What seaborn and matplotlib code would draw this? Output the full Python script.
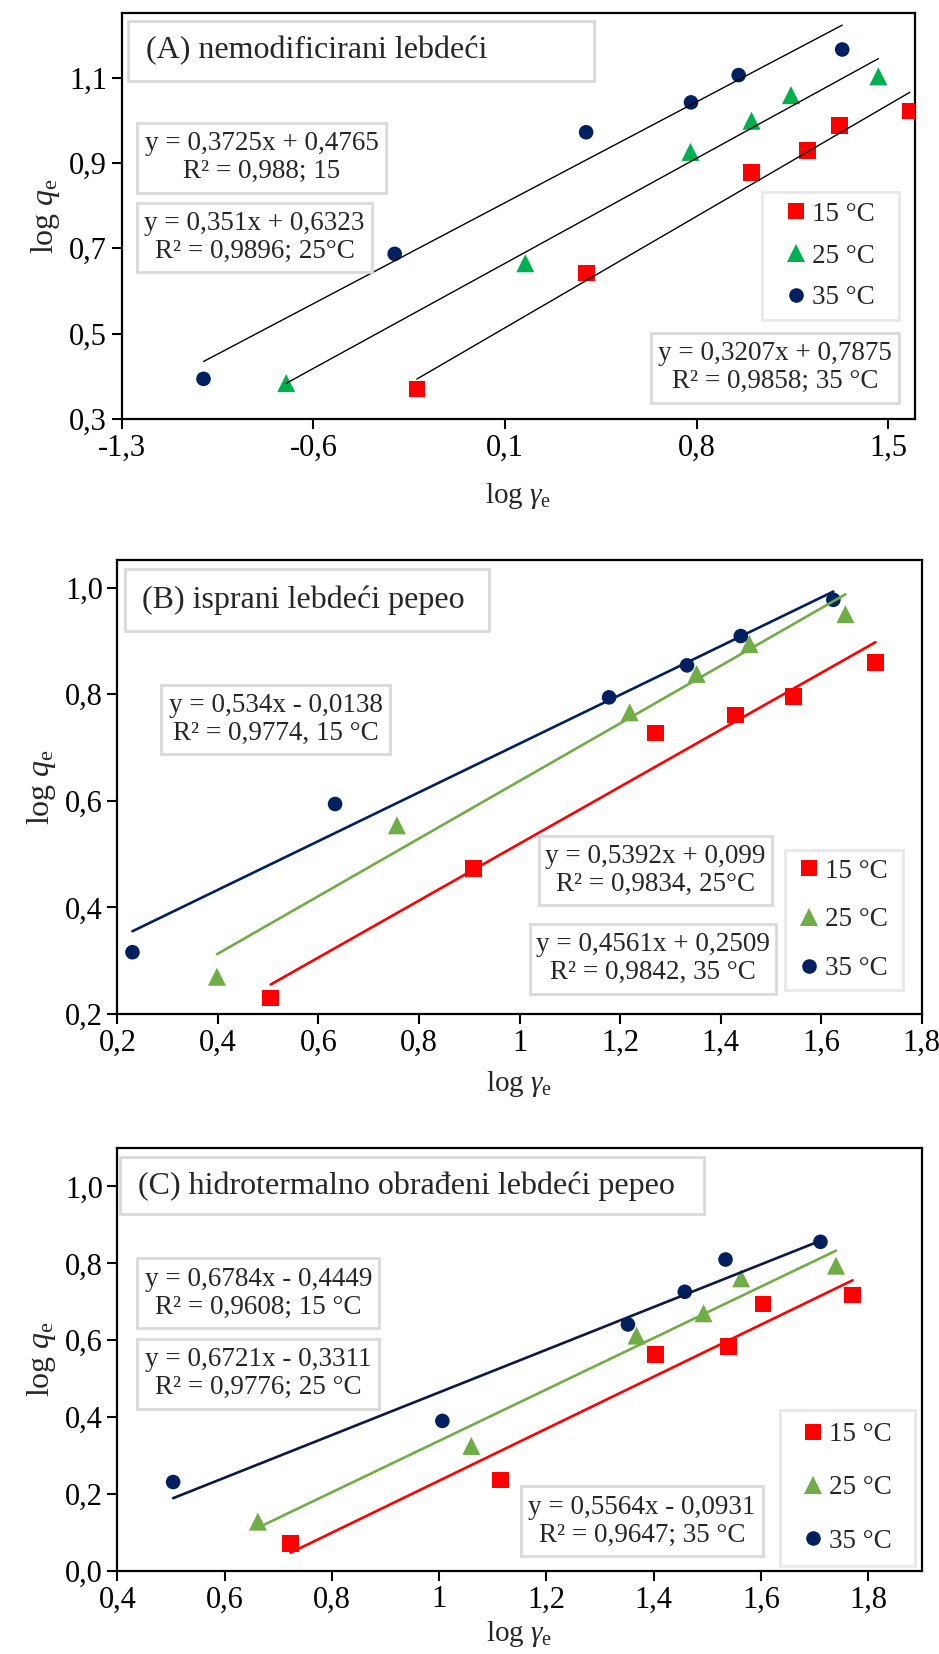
import numpy as np
import pandas as pd
import matplotlib
matplotlib.use('Agg')
import matplotlib.pyplot as plt
import seaborn as sns
from matplotlib.patches import Rectangle
from matplotlib.lines import Line2D

temps = ['15 °C', '25 °C', '35 °C']

# panel A: nemodificirani lebdeci pepeo
a_x15 = [-0.222, 0.398, 0.999, 1.204, 1.320, 1.578]
a_y15 = [0.370, 0.642, 0.877, 0.930, 0.988, 1.022]
a_x25 = [-0.699, 0.174, 0.777, 1.000, 1.144, 1.463]
a_y25 = [0.384, 0.665, 0.926, 0.999, 1.059, 1.103]
a_x35 = [-1.001, -0.303, 0.396, 0.779, 0.953, 1.331]
a_y35 = [0.394, 0.687, 0.972, 1.042, 1.106, 1.166]

# panel B: isprani lebdeci pepeo
b_x15 = [0.505, 0.908, 1.270, 1.430, 1.545, 1.708]
b_y15 = [0.230, 0.473, 0.727, 0.761, 0.796, 0.860]
b_x25 = [0.398, 0.756, 1.219, 1.352, 1.457, 1.648]
b_y25 = [0.270, 0.554, 0.766, 0.838, 0.894, 0.950]
b_x35 = [0.230, 0.633, 1.178, 1.333, 1.440, 1.624]
b_y35 = [0.316, 0.594, 0.794, 0.854, 0.909, 0.977]

# panel C: hidrotermalno obradeni lebdeci pepeo
c_x15 = [0.723, 1.115, 1.404, 1.539, 1.604, 1.771]
c_y15 = [0.071, 0.236, 0.562, 0.584, 0.694, 0.718]
c_x25 = [0.662, 1.060, 1.368, 1.493, 1.563, 1.740]
c_y25 = [0.128, 0.325, 0.612, 0.670, 0.761, 0.794]
c_x35 = [0.504, 1.006, 1.352, 1.458, 1.534, 1.711]
c_y35 = [0.231, 0.390, 0.641, 0.726, 0.810, 0.856]

a_xticks = [-1.3, -0.6, 0.1, 0.8, 1.5]
a_xlabels = ['-1,3', '-0,6', '0,1', '0,8', '1,5']
a_yticks = [0.3, 0.5, 0.7, 0.9, 1.1]
a_ylabels = ['0,3', '0,5', '0,7', '0,9', '1,1']
b_xticks = [0.2, 0.4, 0.6, 0.8, 1.0, 1.2, 1.4, 1.6, 1.8]
b_xlabels = ['0,2', '0,4', '0,6', '0,8', '1', '1,2', '1,4', '1,6', '1,8']
b_yticks = [0.2, 0.4, 0.6, 0.8, 1.0]
b_ylabels = ['0,2', '0,4', '0,6', '0,8', '1,0']
c_xticks = [0.4, 0.6, 0.8, 1.0, 1.2, 1.4, 1.6, 1.8]
c_xlabels = ['0,4', '0,6', '0,8', '1', '1,2', '1,4', '1,6', '1,8']
c_yticks = [0.0, 0.2, 0.4, 0.6, 0.8, 1.0]
c_ylabels = ['0,0', '0,2', '0,4', '0,6', '0,8', '1,0']

a_title = '(A) nemodificirani lebdeći'
b_title = '(B) isprani lebdeći pepeo'
c_title = '(C) hidrotermalno obrađeni lebdeći pepeo'
a_eqs = ['y = 0,3725x + 0,4765\nR² = 0,988; 15',
         'y = 0,351x + 0,6323\nR² = 0,9896; 25°C',
         'y = 0,3207x + 0,7875\nR² = 0,9858; 35 °C']
b_eqs = ['y = 0,534x - 0,0138\nR² = 0,9774, 15 °C',
         'y = 0,5392x + 0,099\nR² = 0,9834, 25°C',
         'y = 0,4561x + 0,2509\nR² = 0,9842, 35 °C']
c_eqs = ['y = 0,6784x - 0,4449\nR² = 0,9608; 15 °C',
         'y = 0,6721x - 0,3311\nR² = 0,9776; 25 °C',
         'y = 0,5564x - 0,0931\nR² = 0,9647; 35 °C']

sns.set_style('white')
plt.rcParams['font.family'] = ['Liberation Serif', 'DejaVu Serif']
plt.rcParams['mathtext.fontset'] = 'custom'
plt.rcParams['mathtext.rm'] = 'Liberation Serif'
plt.rcParams['mathtext.it'] = 'Liberation Serif:italic'
plt.rcParams['mathtext.bf'] = 'Liberation Serif:bold'

markers = {'15 °C': 's', '25 °C': '^', '35 °C': 'o'}
msize = {'15 °C': 12, '25 °C': 13, '35 °C': 10.5}
BOX = '#D9D9D9'
LEGBOX = '#E8E8E8'


def panel(ax, xs, ys, mcolors, lcolors, lw, xl, yl, xt, xtl, yt, ytl,
          title, title_box, title_x, eqs, eq_boxes, leg_box, leg_space, xpad):
    for t, x, y, mc, lc in zip(temps, xs, ys, mcolors, lcolors):
        df = pd.DataFrame({'x': x, 'y': y})
        sns.scatterplot(data=df, x='x', y='y', ax=ax, marker=markers[t],
                        s=msize[t] ** 2, color=mc, edgecolor='none', linewidth=0, zorder=3)
        sns.regplot(data=df, x='x', y='y', ax=ax, scatter=False, ci=None,
                    truncate=True, color=lc, line_kws={'lw': lw, 'zorder': 4})
    ax.set_xlim(xl)
    ax.set_ylim(yl)
    ax.set_xticks(xt)
    ax.set_xticklabels(xtl)
    ax.set_yticks(yt)
    ax.set_yticklabels(ytl)
    ax.tick_params(direction='out', length=7, width=1.5, labelsize=22,
                   bottom=True, left=True, colors='black')
    for s in ax.spines.values():
        s.set_color('black')
        s.set_linewidth(1.6)
    ax.set_xlabel(r'log $\gamma_{\mathrm{e}}$', fontsize=21, labelpad=xpad)
    ax.set_ylabel(r'log $\mathit{q}_{\mathrm{e}}$', fontsize=23, labelpad=5)

    def box(b, ec=BOX):
        ax.add_patch(Rectangle((b[0], b[2]), b[1] - b[0], b[3] - b[2], transform=ax.transAxes,
                               facecolor='white', edgecolor=ec, lw=2, zorder=5))

    box(title_box)
    ax.text(title_x, (title_box[2] + title_box[3]) / 2, title, transform=ax.transAxes,
            fontsize=23, ha='left', va='center', zorder=6)
    for txt, b in zip(eqs, eq_boxes):
        box(b)
        ax.text((b[0] + b[1]) / 2, (b[2] + b[3]) / 2, txt, transform=ax.transAxes,
                fontsize=19.5, ha='center', va='center', linespacing=1.15, zorder=6)
    box(leg_box, LEGBOX)
    handles = [Line2D([], [], ls='none', marker=markers[t], color=c, markeredgewidth=0,
                      markersize=msize[t]) for t, c in zip(temps, mcolors)]
    leg = ax.legend(handles, temps, loc='center',
                    bbox_to_anchor=((leg_box[0] + leg_box[1]) / 2, (leg_box[2] + leg_box[3]) / 2),
                    frameon=False, fontsize=19.5, handlelength=0.7, handletextpad=0.25,
                    labelspacing=leg_space, borderpad=0)
    leg.set_zorder(7)


fig = plt.figure(figsize=(9.39, 16.54), dpi=100)
axA = fig.add_axes([0.1295, 0.7467, 0.845, 0.2453])
axB = fig.add_axes([0.1250, 0.3869, 0.8567, 0.2748])
axC = fig.add_axes([0.1250, 0.0503, 0.8567, 0.2556])

panel(axA, [a_x15, a_x25, a_x35], [a_y15, a_y25, a_y35],
      ['#FF0000', '#00B050', '#002060'], ['black', 'black', 'black'], 1.0,
      (-1.3, 1.597), (0.3, 1.251), a_xticks, a_xlabels, a_yticks, a_ylabels,
      a_title, (0.008, 0.596, 0.833, 0.982), 0.031, a_eqs,
      [(0.020, 0.333, 0.558, 0.730), (0.020, 0.315, 0.361, 0.533), (0.667, 0.980, 0.040, 0.213)],
      (0.807, 0.980, 0.244, 0.559), 0.62, 13)

panel(axB, [b_x15, b_x25, b_x35], [b_y15, b_y25, b_y35],
      ['#FF0000', '#70AD47', '#002060'], ['#FF0000', '#70AD47', '#002060'], 1.9,
      (0.2, 1.8), (0.2, 1.0525), b_xticks, b_xlabels, b_yticks, b_ylabels,
      b_title, (0.009, 0.4615, 0.842, 0.979), 0.031, b_eqs,
      [(0.0547, 0.339, 0.572, 0.725), (0.5236, 0.8138, 0.2396, 0.392), (0.5124, 0.819, 0.0444, 0.1985)],
      (0.830, 0.976, 0.052, 0.362), 0.88, 8)

panel(axC, [c_x15, c_x25, c_x35], [c_y15, c_y25, c_y35],
      ['#FF0000', '#70AD47', '#002060'], ['#FF0000', '#70AD47', '#0A1A45'], 1.9,
      (0.4, 1.9), (0.0, 1.1), c_xticks, c_xlabels, c_yticks, c_ylabels,
      c_title, (0.0037, 0.7293, 0.843, 0.978), 0.026, c_eqs,
      [(0.0247, 0.3254, 0.5736, 0.7389), (0.0247, 0.3254, 0.3839, 0.549), (0.5012, 0.8026, 0.034, 0.201)],
      (0.8242, 0.991, 0.012, 0.380), 1.05, 3)

fig.savefig('out.png', dpi=100)
